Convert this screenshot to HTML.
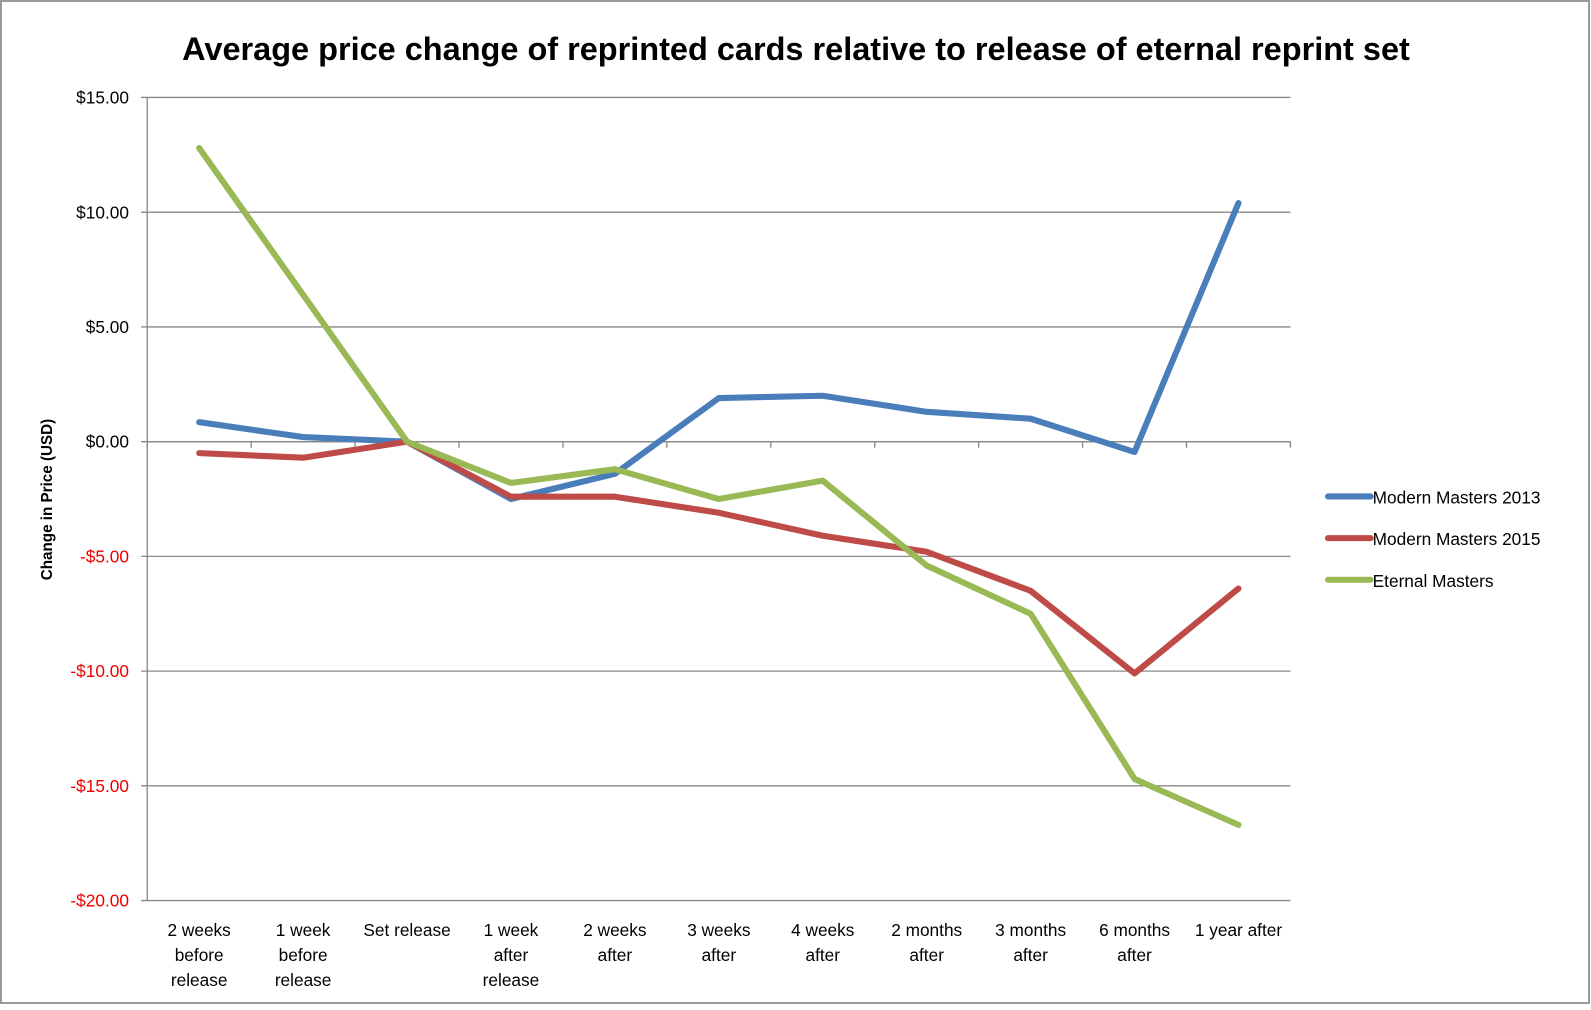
<!DOCTYPE html>
<html><head><meta charset="utf-8"><style>
body{margin:0;background:#fff}
svg text{font-family:"Liberation Sans",sans-serif}
</style></head><body>
<svg id="chart" width="1591" height="1005" xmlns="http://www.w3.org/2000/svg">
<rect x="1" y="1" width="1588" height="1002" fill="#fff" stroke="#999" stroke-width="2"/>
<g transform="scale(1.0153)">
<text x="784" y="59" text-anchor="middle" font-size="32" font-weight="bold">Average price change of reprinted cards relative to release of eternal reprint set</text>
<text transform="translate(51,492) rotate(-90)" text-anchor="middle" font-size="15" font-weight="bold">Change in Price (USD)</text>
<g id="grid"></g><g id="axes"></g><g id="series"></g><g id="legend"></g>
</g>
</svg>
<script>
const categories=[["2 weeks","before","release"],["1 week","before","release"],["Set release"],["1 week","after","release"],["2 weeks","after"],["3 weeks","after"],["4 weeks","after"],["2 months","after"],["3 months","after"],["6 months","after"],["1 year after"]];
const mm2013=[0.85,0.2,0,-2.5,-1.4,1.9,2.0,1.3,1.0,-0.45,10.4];
const mm2015=[-0.5,-0.7,0,-2.4,-2.4,-3.1,-4.1,-4.8,-6.5,-10.1,-6.4];
const eternal=[12.8,6.4,0,-1.8,-1.2,-2.5,-1.7,-5.4,-7.5,-14.7,-16.7];
const yTicks=[15,10,5,0,-5,-10,-15,-20];
const seriesNames=["Modern Masters 2013","Modern Masters 2015","Eternal Masters"];
const NS="http://www.w3.org/2000/svg";
const L=145,R=1271,T=96,B=887,yMax=15,yMin=-20;
const bw=(R-L)/categories.length;
const x=i=>L+bw*(i+0.5);
const y=v=>T+(yMax-v)/(yMax-yMin)*(B-T);
function mk(tag,attrs,parent){const e=document.createElementNS(NS,tag);for(const k in attrs)e.setAttribute(k,attrs[k]);document.getElementById(parent).appendChild(e);return e;}
yTicks.forEach(t=>{
  const g=mk('line',{x1:L-6,x2:R,y1:y(t),y2:y(t),stroke:'#888','stroke-width':1.3},'grid');
  
  
  const lb=mk('text',{x:127,y:y(t)+6,'text-anchor':'end','font-size':17,fill:t<0?'#e00':'#000'},'axes');
  lb.textContent=(t<0?'-':'')+'$'+Math.abs(t).toFixed(2);
  
  
});
const ax=mk('line',{x1:L,x2:L,y1:T,y2:B,stroke:'#888','stroke-width':1.3},'axes');


const xa=mk('line',{x1:L,x2:R,y1:y(0),y2:y(0),stroke:'#888','stroke-width':1.3},'axes');


for(let i=0;i<=categories.length;i++){
  const tk=mk('line',{x1:L+bw*i,x2:L+bw*i,y1:y(0),y2:y(0)+6,stroke:'#888','stroke-width':1.3},'axes');
  
  
}
categories.forEach((c,i)=>{
  const t=mk('text',{x:x(i),'text-anchor':'middle','font-size':17},'axes');
  
  
  c.forEach((s,j)=>{const ts=document.createElementNS(NS,'tspan');ts.setAttribute('x',x(i));ts.setAttribute('y',922+j*24.5);ts.textContent=s;t.appendChild(ts);});
});
const colors=['#4a7ebb','#be4b48','#98b954'];
[mm2013,mm2015,eternal].forEach((d,k)=>{
  const p=mk('polyline',{points:d.map((v,i)=>x(i)+','+y(v)).join(' '),fill:'none',stroke:colors[k],'stroke-width':6,'stroke-linejoin':'round','stroke-linecap':'round'},'series');
  
  
  const ly=489+k*41;
  const ll=mk('line',{x1:1308,x2:1350,y1:ly,y2:ly,stroke:colors[k],'stroke-width':6,'stroke-linecap':'round'},'legend');
  
  
  const lt=mk('text',{x:1352,y:ly+7,'font-size':17},'legend');
  lt.textContent=seriesNames[k];
  
  
});
</script>
</body></html>
